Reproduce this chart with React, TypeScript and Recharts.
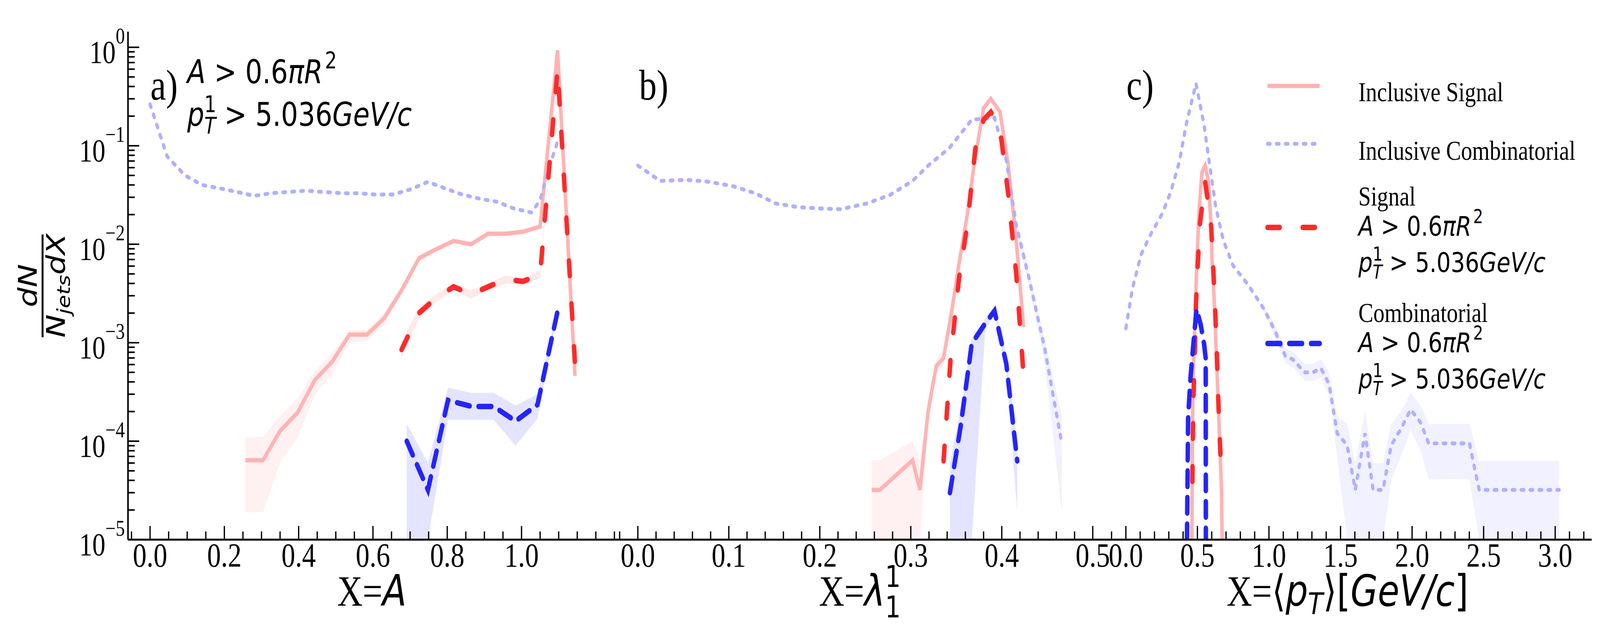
import React, { useLayoutEffect, useState } from "react";
import { ComposedChart, Line, Area, XAxis, YAxis } from "recharts";

// ---------- panel a: X = A ----------
const aInclSigX = [0.257, 0.304, 0.35, 0.397, 0.444, 0.49, 0.537, 0.584, 0.63, 0.677, 0.724, 0.77, 0.817, 0.864, 0.91, 0.957, 1.004, 1.05, 1.097, 1.144];
const aInclSigY = [6.4e-5, 6.4e-5, 1.27e-4, 1.95e-4, 4.2e-4, 6.4e-4, 1.21e-3, 1.21e-3, 1.77e-3, 3.4e-3, 7.2e-3, 8.9e-3, 1.08e-2, 1.0e-2, 1.28e-2, 1.28e-2, 1.34e-2, 1.51e-2, 0.93, 4.6e-4];
const aInclSigLo = [1.9e-5, 1.9e-5, 6.0e-5, 1.1e-4, 3.0e-4, 4.8e-4, 1.0e-3, 1.05e-3, 1.5e-3, 3.0e-3, 6.6e-3, 8.4e-3, 1.03e-2, 9.5e-3, 1.22e-2, 1.22e-2, 1.28e-2, 1.44e-2, 0.88, 4.2e-4];
const aInclSigHi = [1.1e-4, 1.1e-4, 1.8e-4, 2.7e-4, 5.2e-4, 7.8e-4, 1.35e-3, 1.35e-3, 2.0e-3, 3.8e-3, 7.8e-3, 9.4e-3, 1.13e-2, 1.05e-2, 1.34e-2, 1.34e-2, 1.4e-2, 1.58e-2, 0.98, 5.0e-4];

const aInclCombX = [0, 0.046, 0.094, 0.14, 0.187, 0.234, 0.28, 0.327, 0.374, 0.42, 0.467, 0.514, 0.56, 0.607, 0.654, 0.7, 0.748, 0.794, 0.84, 0.887, 0.934, 0.98, 1.027, 1.05, 1.074, 1.097];
const aInclCombY = [0.264, 0.078, 0.05, 0.04, 0.037, 0.034, 0.031, 0.033, 0.034, 0.035, 0.034, 0.033, 0.033, 0.032, 0.032, 0.036, 0.043, 0.037, 0.032, 0.029, 0.027, 0.023, 0.021, 0.028, 0.06, 0.11];

const aSigX = [0.677, 0.724, 0.77, 0.817, 0.864, 0.91, 0.957, 1.004, 1.05, 1.097, 1.144];
const aSigY = [8.5e-4, 2.0e-3, 2.85e-3, 3.7e-3, 3.1e-3, 3.7e-3, 4.4e-3, 4.2e-3, 4.9e-3, 0.6, 6.1e-4];
const aSigLo = [7.0e-4, 1.75e-3, 2.6e-3, 3.4e-3, 2.8e-3, 3.4e-3, 4.0e-3, 3.9e-3, 4.5e-3, 0.56, 5.0e-4];
const aSigHi = [1.0e-3, 2.3e-3, 3.1e-3, 4.0e-3, 3.4e-3, 4.0e-3, 4.8e-3, 4.5e-3, 5.4e-3, 0.64, 7.3e-4];

const aCombX = [0.691, 0.748, 0.802, 0.866, 0.925, 0.984, 1.043, 1.096];
const aCombY = [1.0e-4, 3.2e-5, 2.6e-4, 2.25e-4, 2.25e-4, 1.6e-4, 2.35e-4, 2.0e-3];
const aCombLo = [1e-5, 1e-5, 1.65e-4, 1.65e-4, 1.65e-4, 9e-5, 1.7e-4, 1.8e-3];
const aCombHi = [1.5e-4, 6e-5, 3.5e-4, 3.1e-4, 3.1e-4, 2.3e-4, 3.0e-4, 2.2e-3];

// ---------- panel b: X = lambda_1^1 ----------
const bInclSigX = [0.257, 0.266, 0.302, 0.31, 0.319, 0.328, 0.336, 0.345, 0.353, 0.362, 0.37, 0.38, 0.388, 0.398, 0.407, 0.416, 0.424];
const bInclSigY = [3.2e-5, 3.2e-5, 6.4e-5, 3.2e-5, 2.0e-4, 5.8e-4, 7.0e-4, 2.1e-3, 6.3e-3, 0.0197, 0.068, 0.24, 0.3, 0.222, 0.065, 0.0106, 1.44e-3];
const bInclSigLo = [1e-5, 1e-5, 1e-5, 1e-5, 1.4e-4, 4.8e-4, 5.8e-4, 1.9e-3, 5.9e-3, 0.0188, 0.065, 0.23, 0.29, 0.213, 0.062, 0.0098, 1.2e-3];
const bInclSigHi = [6.4e-5, 6.4e-5, 1.0e-4, 6.4e-5, 2.6e-4, 7.0e-4, 8.4e-4, 2.3e-3, 6.7e-3, 0.0206, 0.071, 0.25, 0.31, 0.231, 0.068, 0.0114, 1.7e-3];

const bInclCombX = [0, 0.0245, 0.053, 0.075, 0.104, 0.129, 0.151, 0.176, 0.201, 0.223, 0.252, 0.277, 0.302, 0.32, 0.342, 0.367, 0.392, 0.405, 0.416, 0.43, 0.447, 0.466];
const bInclCombY = [0.063, 0.044, 0.045, 0.0435, 0.039, 0.033, 0.026, 0.0238, 0.0231, 0.0227, 0.026, 0.0316, 0.044, 0.064, 0.094, 0.184, 0.193, 0.071, 0.0155, 4.5e-3, 8.9e-4, 9.5e-5];
const bInclCombTailX = [0.405, 0.416, 0.43, 0.447, 0.466];
const bInclCombTailLo = [0.066, 0.013, 3.7e-3, 6.5e-4, 1.9e-5];
const bInclCombTailHi = [0.078, 0.018, 5.4e-3, 1.1e-3, 1.8e-4];

const bSigX = [0.336, 0.344, 0.353, 0.362, 0.371, 0.38, 0.388, 0.398, 0.407, 0.416, 0.424];
const bSigY = [6.3e-5, 7.4e-4, 4.5e-3, 0.0155, 0.094, 0.184, 0.22, 0.152, 0.033, 4.9e-3, 4.6e-4];

const bCombX = [0.343, 0.355, 0.367, 0.382, 0.392, 0.405, 0.417];
const bCombY = [3.0e-5, 1.46e-4, 9.8e-4, 1.58e-3, 2.1e-3, 6.1e-4, 6.3e-5];
const bCombLo = [1e-5, 1e-5, 1e-5, 1.4e-3, 1.9e-3, 5.0e-4, 1.9e-5];
const bCombHi = [6e-5, 2.2e-4, 1.1e-3, 1.75e-3, 2.4e-3, 7.5e-4, 1.0e-4];

// ---------- panel c: X = <pT> ----------
const cInclCombX = [0, 0.047, 0.107, 0.181, 0.256, 0.315, 0.375, 0.42, 0.49, 0.547, 0.584, 0.629, 0.681, 0.748, 0.853, 0.965, 1.044, 1.113, 1.17, 1.249, 1.306, 1.363, 1.42, 1.477, 1.546, 1.603, 1.671, 1.728, 1.797, 1.854, 1.922, 1.99, 2.059, 2.116, 2.241, 2.401, 2.469, 2.583, 3.028];
const cInclCombY = [1.4e-3, 3.6e-3, 7.9e-3, 0.0132, 0.0207, 0.0345, 0.07, 0.16, 0.43, 0.16, 0.066, 0.0235, 0.011, 6.1e-3, 3.9e-3, 2.2e-3, 1.3e-3, 7.4e-4, 6.7e-4, 5.0e-4, 5.0e-4, 5.5e-4, 3.8e-4, 1.2e-4, 9.1e-5, 3.2e-5, 1.2e-4, 3.2e-5, 3.2e-5, 9.1e-5, 1.33e-4, 2.1e-4, 1.55e-4, 9.5e-5, 9.5e-5, 9.5e-5, 3.2e-5, 3.2e-5, 3.2e-5];
const cInclCombBandX = [0.965, 1.044, 1.113, 1.17, 1.249, 1.306, 1.363, 1.42, 1.477, 1.546, 1.603, 1.671, 1.728, 1.797, 1.854, 1.922, 1.99, 2.059, 2.116, 2.241, 2.401, 2.469, 2.583, 3.028];
const cInclCombLo = [2.0e-3, 1.1e-3, 6.2e-4, 5.6e-4, 4.1e-4, 4.1e-4, 4.4e-4, 2.9e-4, 7e-5, 1e-5, 1e-5, 1e-5, 1e-5, 1e-5, 4e-5, 7e-5, 1.3e-4, 8e-5, 4.1e-5, 4.1e-5, 4.1e-5, 1e-5, 1e-5, 1e-5];
const cInclCombHi = [2.4e-3, 1.5e-3, 8.8e-4, 8.0e-4, 6.1e-4, 6.1e-4, 6.8e-4, 5.0e-4, 1.8e-4, 1.5e-4, 6e-5, 2.0e-4, 6e-5, 6e-5, 1.5e-4, 2.0e-4, 3.1e-4, 2.3e-4, 1.5e-4, 1.5e-4, 1.5e-4, 6.3e-5, 6.3e-5, 6.3e-5];

const cInclSigX = [0.462, 0.465, 0.468, 0.476, 0.487, 0.498, 0.513, 0.532, 0.554, 0.576, 0.594, 0.602, 0.616, 0.631, 0.646, 0.661, 0.668, 0.673];
const cInclSigY = [1e-5, 8.9e-5, 3.2e-4, 8.4e-4, 2.6e-3, 7.9e-3, 0.0235, 0.054, 0.063, 0.045, 0.017, 6.9e-3, 3.0e-3, 8.4e-4, 2.3e-4, 6.5e-5, 3.2e-5, 1e-5];

const cSigX = [0.465, 0.468, 0.472, 0.483, 0.49, 0.502, 0.517, 0.554, 0.594, 0.609, 0.624, 0.635, 0.646, 0.657, 0.669];
const cSigY = [3.9e-5, 1.0e-4, 2.6e-4, 8.4e-4, 2.5e-3, 6.1e-3, 0.016, 0.043, 0.017, 6.5e-3, 2.2e-3, 8.4e-4, 2.6e-4, 1.0e-4, 3.9e-5];

const cCombX = [0.427, 0.435, 0.45, 0.468, 0.494, 0.524, 0.547, 0.558, 0.559];
const cCombY = [1e-5, 1.7e-4, 4.1e-4, 8.4e-4, 2.2e-3, 1.5e-3, 9.6e-4, 6.9e-4, 1e-5];

// ---------- ticks ----------
const aMajor = [0, 0.2, 0.4, 0.6, 0.8, 1.0];
const aLabels = ["0.0", "0.2", "0.4", "0.6", "0.8", "1.0"];
const bMajor = [0, 0.1, 0.2, 0.3, 0.4, 0.5];
const bLabels = ["0.0", "0.1", "0.2", "0.3", "0.4", "0.5"];
const cMajor = [0, 0.5, 1.0, 1.5, 2.0, 2.5, 3.0];
const cLabels = ["0.0", "0.5", "1.0", "1.5", "2.0", "2.5", "3.0"];
const yDecades = [1e-5, 1e-4, 1e-3, 1e-2, 1e-1, 1];

// ---------- styles ----------
const PAGE_W = 5000;
const PAGE_H = 1625;
const TOP = 81;
const BOTTOM = 1381;
const SERIF = "Liberation Serif, Times New Roman, serif";
const SANS = "DejaVu Sans, sans-serif";
const Y_DOMAIN: [number, number] = [1e-5, 1.442];

const PINK = "#ffb3b3";
const LIGHTBLUE = "#b0b0ff";
const RED = "#ff2a2a";
const BLUE = "#2424ff";

const styleInclSig = { stroke: PINK, strokeWidth: 11 };
const styleInclComb = { stroke: LIGHTBLUE, strokeWidth: 10, strokeDasharray: "8 20", strokeLinecap: "round" as const };
const styleSig = { stroke: RED, strokeWidth: 14, strokeDasharray: "38 72", strokeLinecap: "round" as const };
const styleComb = { stroke: BLUE, strokeWidth: 14, strokeDasharray: "40 28", strokeLinecap: "round" as const };

const range = (start: number, stop: number, step: number) => {
  const n = Math.round((stop - start) / step);
  const out: number[] = [];
  for (let i = 0; i <= n; i++) out.push(+(start + i * step).toFixed(4));
  return out;
};

const yTicks = yDecades.flatMap((d) => (d < 1 ? [1, 2, 3, 4, 5, 6, 7, 8, 9].map((m) => +(m * d).toPrecision(3)) : [d]));

const pts = (xs: number[], ys: number[]) => xs.map((x, i) => ({ x, y: ys[i] }));
const band = (xs: number[], lo: number[], hi: number[]) => xs.map((x, i) => ({ x, r: [lo[i], hi[i]] }));

const isMajorX = (v: number, majors: number[]) => majors.findIndex((m) => Math.abs(m - v) < 1e-6);
const isDecade = (v: number) => Math.abs(Math.log10(v) - Math.round(Math.log10(v))) < 1e-6;

function xTick(side: "bottom" | "top", majors: number[], labels: string[]) {
  return (p: any) => {
    const { x, y, payload } = p;
    const mi = isMajorX(payload.value, majors);
    const len = mi >= 0 ? 35 : 21;
    const dir = side === "bottom" ? -1 : 1;
    return (
      <g>
        <line x1={x} x2={x} y1={y} y2={y + dir * len} stroke="#000" strokeWidth={4} />
        {side === "bottom" && mi >= 0 && (
          <text x={x} y={y + 69} textAnchor="middle" fontFamily={SERIF} fontSize={86} fill="#000">
            {labels[mi]}
          </text>
        )}
      </g>
    );
  };
}

function yTick(side: "left" | "right", showLabels: boolean) {
  return (p: any) => {
    const { x, y, payload } = p;
    const major = isDecade(payload.value);
    const len = major ? 35 : 21;
    const dir = side === "left" ? 1 : -1;
    const exp = Math.round(Math.log10(payload.value));
    return (
      <g>
        <line x1={x} x2={x + dir * len} y1={y} y2={y} stroke="#000" strokeWidth={4} />
        {showLabels && major && (
          <text x={x - 10} y={y + 40} textAnchor="end" fontFamily={SERIF} fontSize={82} fill="#000">
            10
            <tspan dy={-50} fontSize={57}>
              {exp < 0 ? "\u2212" + Math.abs(exp) : String(exp)}
            </tspan>
          </text>
        )}
      </g>
    );
  };
}

type Band = { data: { x: number; r: number[] }[]; fill: string; opacity: number };
type Series = { data: { x: number; y: number }[]; style: any };

function Panel(props: {
  chartLeft: number;
  plotLeft: number;
  plotRight: number;
  rightMargin: number;
  domain: [number, number];
  ticks: number[];
  majors: number[];
  labels: string[];
  yLabels: boolean;
  bands: Band[];
  series: Series[];
}) {
  const { chartLeft, plotLeft, plotRight, rightMargin, domain, ticks, majors, labels, yLabels, bands, series } = props;
  const width = plotRight - chartLeft + rightMargin;
  const axisLine = { stroke: "#000", strokeWidth: 5 };
  return (
    <div style={{ position: "absolute", left: chartLeft, top: 0 }}>
      <ComposedChart width={width} height={PAGE_H} margin={{ top: TOP, bottom: 0, left: 0, right: rightMargin }}>
        <XAxis
          xAxisId="b"
          type="number"
          dataKey="x"
          domain={domain}
          allowDataOverflow
          ticks={ticks}
          interval={0}
          tickSize={0}
          tickMargin={0}
          height={PAGE_H - BOTTOM}
          axisLine={axisLine}
          tickLine={false}
          tick={xTick("bottom", majors, labels)}
        />
        <XAxis
          xAxisId="t"
          orientation="top"
          type="number"
          dataKey="x"
          domain={domain}
          allowDataOverflow
          ticks={ticks}
          interval={0}
          tickSize={0}
          tickMargin={0}
          height={0}
          axisLine={axisLine}
          tickLine={false}
          tick={xTick("top", majors, labels)}
        />
        <YAxis
          yAxisId="l"
          type="number"
          scale="log"
          domain={Y_DOMAIN}
          allowDataOverflow
          ticks={yTicks}
          interval={0}
          tickSize={0}
          tickMargin={0}
          width={plotLeft - chartLeft}
          axisLine={axisLine}
          tickLine={false}
          tick={yTick("left", yLabels)}
        />
        <YAxis
          yAxisId="r"
          orientation="right"
          type="number"
          scale="log"
          domain={Y_DOMAIN}
          allowDataOverflow
          ticks={yTicks}
          interval={0}
          tickSize={0}
          tickMargin={0}
          width={0}
          axisLine={axisLine}
          tickLine={false}
          tick={yTick("right", false)}
        />
        {bands.map((b, i) => (
          <Area
            key={"band" + i}
            data={b.data}
            dataKey="r"
            xAxisId="b"
            yAxisId="l"
            type="linear"
            stroke="none"
            fill={b.fill}
            fillOpacity={b.opacity}
            isAnimationActive={false}
            activeDot={false}
          />
        ))}
        {series.map((s, i) => (
          <Line
            key={"line" + i}
            data={s.data}
            dataKey="y"
            xAxisId="b"
            yAxisId="l"
            type="linear"
            dot={false}
            activeDot={false}
            isAnimationActive={false}
            {...s.style}
          />
        ))}
        {/* invisible copy so the top and right axes have a series bound to them */}
        <Line
          data={series[0].data}
          dataKey="y"
          xAxisId="t"
          yAxisId="r"
          stroke="none"
          dot={false}
          activeDot={false}
          isAnimationActive={false}
        />
      </ComposedChart>
    </div>
  );
}

// math text helpers
function CutText({ x, y1, y2, fs }: { x: number; y1: number; y2: number; fs: number }) {
  return (
    <g fontFamily={SANS} fontSize={fs} fill="#000">
      <text x={x} y={y1}>
        <tspan fontStyle="italic">A</tspan>
        {" > 0.6"}
        <tspan fontStyle="italic">{"\u03c0R"}</tspan>
        <tspan dx={fs * 0.08} dy={-fs * 0.45} fontSize={fs * 0.7}>
          2
        </tspan>
      </text>
      <text x={x} y={y2}>
        <tspan fontStyle="italic">p</tspan>
        <tspan dy={-fs * 0.42} fontSize={fs * 0.7}>
          1
        </tspan>
        <tspan dx={-fs * 0.445} dy={fs * 0.66} fontSize={fs * 0.7} fontStyle="italic">
          T
        </tspan>
        <tspan dy={-fs * 0.24}>{" > 5.036"}</tspan>
        <tspan fontStyle="italic">GeV/c</tspan>
      </text>
    </g>
  );
}

const legendItems = [
  { title: "Inclusive Signal", cut: false, style: styleInclSig, sampleY: 220, textY: 259 },
  { title: "Inclusive Combinatorial", cut: false, style: styleInclComb, sampleY: 368, textY: 409 },
  { title: "Signal", cut: true, style: styleSig, sampleY: 582, textY: 526 },
  { title: "Combinatorial", cut: true, style: styleComb, sampleY: 879, textY: 824 },
];

function Overlay() {
  return (
    <svg width={PAGE_W} height={PAGE_H} style={{ position: "absolute", left: 0, top: 0, pointerEvents: "none" }}>
      {/* y label */}
      <g fontFamily={SANS} fontStyle="italic" fontSize={80} fill="#000">
        <text x={115} y={731} transform="rotate(-90 115 731)" textAnchor="middle">
          dN
        </text>
        <line x1={133} x2={133} y1={600} y2={863} stroke="#000" strokeWidth={6} />
        <text x={203} y={731} transform="rotate(-90 203 731)" textAnchor="middle">
          N
          <tspan dy={16} fontSize={56}>
            jets
          </tspan>
          <tspan dy={-16}>dX</tspan>
        </text>
      </g>

      {/* x labels */}
      <text x={1162} y={1550} textAnchor="middle" fontSize={110} fill="#000">
        <tspan fontFamily={SERIF}>X=</tspan>
        <tspan fontFamily={SANS} fontStyle="italic">
          A
        </tspan>
      </text>
      <text x={2687} y={1550} textAnchor="middle" fontSize={110} fill="#000">
        <tspan fontFamily={SERIF}>X=</tspan>
        <tspan fontFamily={SANS} fontStyle="italic">
          {"\u03bb"}
        </tspan>
        <tspan fontFamily={SANS} dy={-48} fontSize={77}>
          1
        </tspan>
        <tspan fontFamily={SANS} dx={-49} dy={78} fontSize={77}>
          1
        </tspan>
      </text>
      <text x={4211} y={1550} textAnchor="middle" fontSize={110} fill="#000">
        <tspan fontFamily={SERIF}>X=</tspan>
        <tspan fontFamily={SANS}>{"\u27e8"}</tspan>
        <tspan fontFamily={SANS} fontStyle="italic">
          p
        </tspan>
        <tspan fontFamily={SANS} fontStyle="italic" dy={22} fontSize={77}>
          T
        </tspan>
        <tspan fontFamily={SANS} dy={-22}>
          {"\u27e9["}
        </tspan>
        <tspan fontFamily={SANS} fontStyle="italic">
          GeV/c
        </tspan>
        <tspan fontFamily={SANS}>]</tspan>
      </text>

      {/* panel letters and the cut annotation of panel a */}
      <g fontFamily={SERIF} fontSize={110} fill="#000">
        <text x={470} y={255}>a)</text>
        <text x={1997} y={255}>b)</text>
        <text x={3520} y={255}>c)</text>
      </g>
      <CutText x={585} y1={213} y2={322} fs={84} />

      {/* legend */}
      {legendItems.map((it, i) => (
        <g key={i}>
          <line x1={3961} x2={4124} y1={it.sampleY} y2={it.sampleY} fill="none" {...it.style} />
          <text x={4245} y={it.textY} fontFamily={SERIF} fontSize={70} fill="#000">
            {it.title}
          </text>
          {it.cut && <CutText x={4245} y1={it.textY + 77} y2={it.textY + 170} fs={70} />}
        </g>
      ))}
    </svg>
  );
}

export default function App() {
  // fit the 5000x1625 figure to whatever CSS viewport the page really has
  const [scale, setScale] = useState<[number, number]>([1, 1]);
  useLayoutEffect(() => {
    const fit = () => setScale([window.innerWidth / PAGE_W, window.innerHeight / PAGE_H]);
    fit();
    window.addEventListener("resize", fit);
    return () => window.removeEventListener("resize", fit);
  }, []);

  const bandPink = 0.18;
  return (
    <div
      style={{
        position: "absolute",
        left: 0,
        top: 0,
        width: PAGE_W,
        height: PAGE_H,
        background: "#fff",
        transformOrigin: "0 0",
        transform: `scale(${scale[0]}, ${scale[1]})`,
      }}
    >
      <style>{"html,body{overflow:hidden;margin:0}.recharts-surface{overflow:visible}"}</style>
      <Panel
        chartLeft={0}
        plotLeft={400}
        plotRight={1925}
        rightMargin={0}
        domain={[-0.0594, 1.2543]}
        ticks={range(-0.05, 1.25, 0.05)}
        majors={aMajor}
        labels={aLabels}
        yLabels
        bands={[
          { data: band(aInclSigX, aInclSigLo, aInclSigHi), fill: PINK, opacity: bandPink },
          { data: band(aSigX, aSigLo, aSigHi), fill: RED, opacity: 0.1 },
          { data: band(aCombX, aCombLo, aCombHi), fill: BLUE, opacity: 0.12 },
        ]}
        series={[
          { data: pts(aInclSigX, aInclSigY), style: styleInclSig },
          { data: pts(aInclCombX, aInclCombY), style: styleInclComb },
          { data: pts(aSigX, aSigY), style: styleSig },
          { data: pts(aCombX, aCombY), style: styleComb },
        ]}
      />
      <Panel
        chartLeft={1925}
        plotLeft={1925}
        plotRight={3449}
        rightMargin={0}
        domain={[-0.024, 0.512]}
        ticks={range(-0.02, 0.5, 0.02)}
        majors={bMajor}
        labels={bLabels}
        yLabels={false}
        bands={[
          { data: band(bInclSigX, bInclSigLo, bInclSigHi), fill: PINK, opacity: bandPink },
          { data: band(bInclCombTailX, bInclCombTailLo, bInclCombTailHi), fill: LIGHTBLUE, opacity: 0.18 },
          { data: band(bCombX, bCombLo, bCombHi), fill: BLUE, opacity: 0.12 },
        ]}
        series={[
          { data: pts(bInclSigX, bInclSigY), style: styleInclSig },
          { data: pts(bInclCombX, bInclCombY), style: styleInclComb },
          { data: pts(bSigX, bSigY), style: styleSig },
          { data: pts(bCombX, bCombY), style: styleComb },
        ]}
      />
      <Panel
        chartLeft={3449}
        plotLeft={3449}
        plotRight={4974}
        rightMargin={26}
        domain={[-0.155, 3.255]}
        ticks={range(-0.1, 3.2, 0.1)}
        majors={cMajor}
        labels={cLabels}
        yLabels={false}
        bands={[{ data: band(cInclCombBandX, cInclCombLo, cInclCombHi), fill: LIGHTBLUE, opacity: 0.18 }]}
        series={[
          { data: pts(cInclSigX, cInclSigY), style: styleInclSig },
          { data: pts(cInclCombX, cInclCombY), style: styleInclComb },
          { data: pts(cSigX, cSigY), style: styleSig },
          { data: pts(cCombX, cCombY), style: styleComb },
        ]}
      />
      <Overlay />
    </div>
  );
}
